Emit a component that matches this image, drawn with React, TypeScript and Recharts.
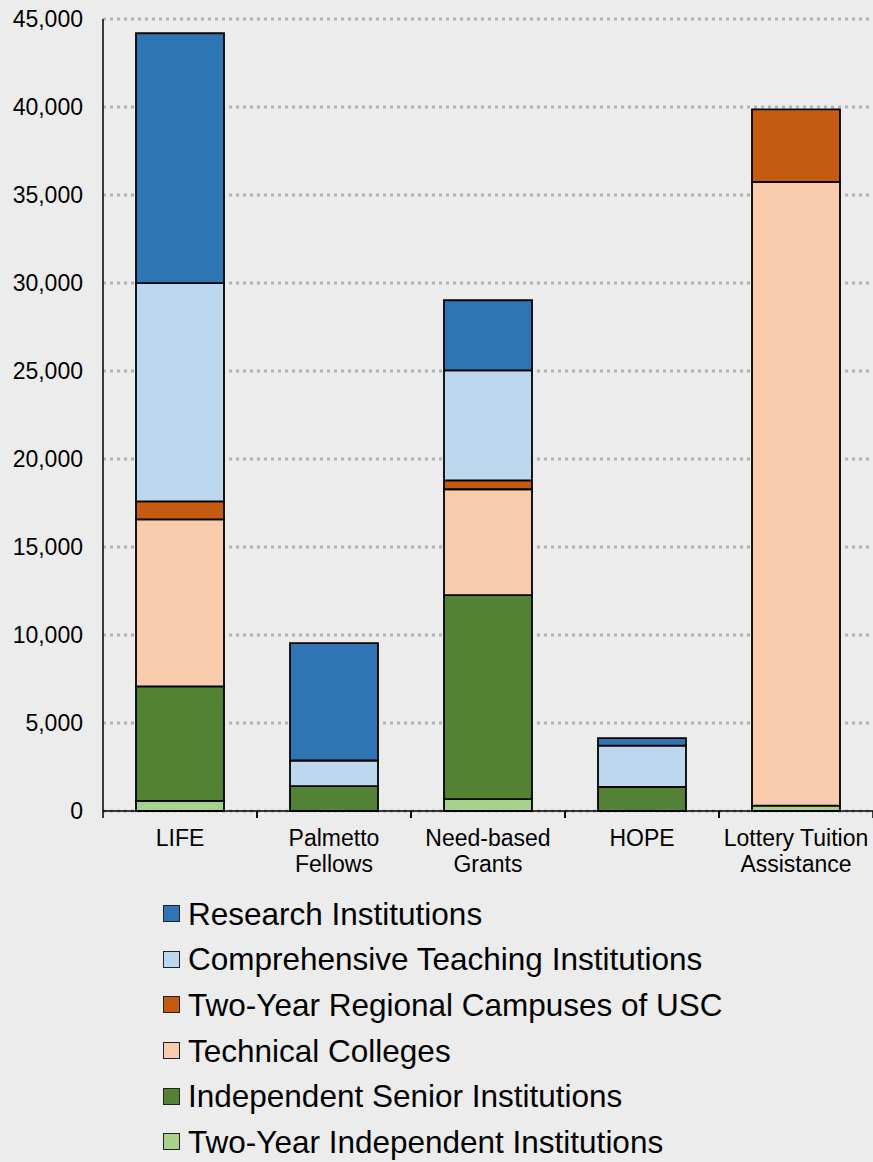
import React from 'react';
import { BarChart, Bar, XAxis, YAxis, CartesianGrid, Legend } from 'recharts';

const categories = ['LIFE', 'Palmetto Fellows', 'Need-based Grants', 'HOPE', 'Lottery Tuition Assistance'];
const categoryLines: string[][] = [['LIFE'], ['Palmetto', 'Fellows'], ['Need-based', 'Grants'], ['HOPE'], ['Lottery Tuition', 'Assistance']];

const twoYearIndependent = [580, 0, 670, 0, 310];
const independentSenior = [6500, 1410, 11600, 1375, 0];
const technicalColleges = [9490, 0, 6010, 0, 35440];
const twoYearRegional = [1020, 0, 510, 0, 4110];
const comprehensiveTeaching = [12400, 1460, 6240, 2335, 0];
const researchInstitutions = [14200, 6670, 3990, 430, 0];

const yTicks = [0, 5000, 10000, 15000, 20000, 25000, 30000, 35000, 40000, 45000];

const seriesDefs = [
  { key: 'twoYearIndependent', name: 'Two-Year Independent Institutions', color: '#A9D18E', values: twoYearIndependent },
  { key: 'independentSenior', name: 'Independent Senior Institutions', color: '#548235', values: independentSenior },
  { key: 'technicalColleges', name: 'Technical Colleges', color: '#F8CBAD', values: technicalColleges },
  { key: 'twoYearRegional', name: 'Two-Year Regional Campuses of USC', color: '#C55A11', values: twoYearRegional },
  { key: 'comprehensiveTeaching', name: 'Comprehensive Teaching Institutions', color: '#BDD7EE', values: comprehensiveTeaching },
  { key: 'researchInstitutions', name: 'Research Institutions', color: '#2E75B6', values: researchInstitutions },
];

const data = categories.map((c, i) => {
  const row: any = { category: c };
  seriesDefs.forEach((s) => {
    row[s.key] = s.values[i];
  });
  return row;
});

const FONT = 'Arial, "Liberation Sans", sans-serif';

const XTick = (props: any) => {
  const { x, y, payload, index } = props;
  const lines = categoryLines[index] || [String(payload.value)];
  const half = 77;
  return (
    <g>
      <line x1={x - half} x2={x - half} y1={y} y2={y + 7} stroke="#000" strokeWidth={1.5} />
      <line x1={x + half} x2={x + half} y1={y} y2={y + 7} stroke="#000" strokeWidth={1.5} />
      <text x={x} y={y} textAnchor="middle" fontFamily={FONT} fontSize={23} fill="#000">
        {lines.map((l: string, i: number) => (
          <tspan key={i} x={x} dy={i === 0 ? 35 : 26}>
            {l}
          </tspan>
        ))}
      </text>
    </g>
  );
};

const LegendContent = () => {
  const items = [...seriesDefs].reverse();
  return (
    <div style={{ fontFamily: FONT, fontSize: 31.5, color: '#000' }}>
      {items.map((s) => (
        <div key={s.key} style={{ display: 'flex', alignItems: 'center', height: 45.6, whiteSpace: 'nowrap' }}>
          <span
            style={{
              display: 'inline-block',
              width: 15,
              height: 15,
              background: s.color,
              border: '1.5px solid #222',
              marginRight: 8,
            }}
          />
          <span style={{ lineHeight: '28px' }}>{s.name}</span>
        </div>
      ))}
    </div>
  );
};

export default function App() {
  return (
    <div style={{ position: 'absolute', left: 0, top: 0, width: 873, height: 1162, background: '#ececec' }}>
      <BarChart
        width={873}
        height={1162}
        data={data}
        margin={{ top: 19, right: 0, left: 0, bottom: 291 }}
      >
        <CartesianGrid vertical={false} stroke="#b3b3b3" strokeWidth={3} strokeDasharray="3 4" />
        <XAxis
          dataKey="category"
          interval={0}
          height={60}
          tickSize={0}
          tickMargin={0}
          tickLine={false}
          axisLine={{ stroke: '#000', strokeWidth: 1.5 }}
          tick={<XTick />}
        />
        <YAxis
          width={103}
          domain={[0, 45000]}
          ticks={yTicks}
          interval={0}
          tickLine={false}
          tickSize={6}
          tickMargin={14}
          axisLine={{ stroke: '#000', strokeWidth: 1.5 }}
          tick={{ fill: '#000', fontSize: 23, fontFamily: FONT }}
          tickFormatter={(v: number) => v.toLocaleString('en-US')}
        />
        <Legend
          layout="vertical"
          align="center"
          verticalAlign="middle"
          wrapperStyle={{ left: 163, top: 891, width: 700 }}
          content={<LegendContent />}
        />
        {seriesDefs.map((s) => (
          <Bar
            key={s.key}
            dataKey={s.key}
            name={s.name}
            stackId="a"
            fill={s.color}
            stroke="#000"
            strokeWidth={1.8}
            barSize={88}
            isAnimationActive={false}
          />
        ))}
      </BarChart>
    </div>
  );
}
